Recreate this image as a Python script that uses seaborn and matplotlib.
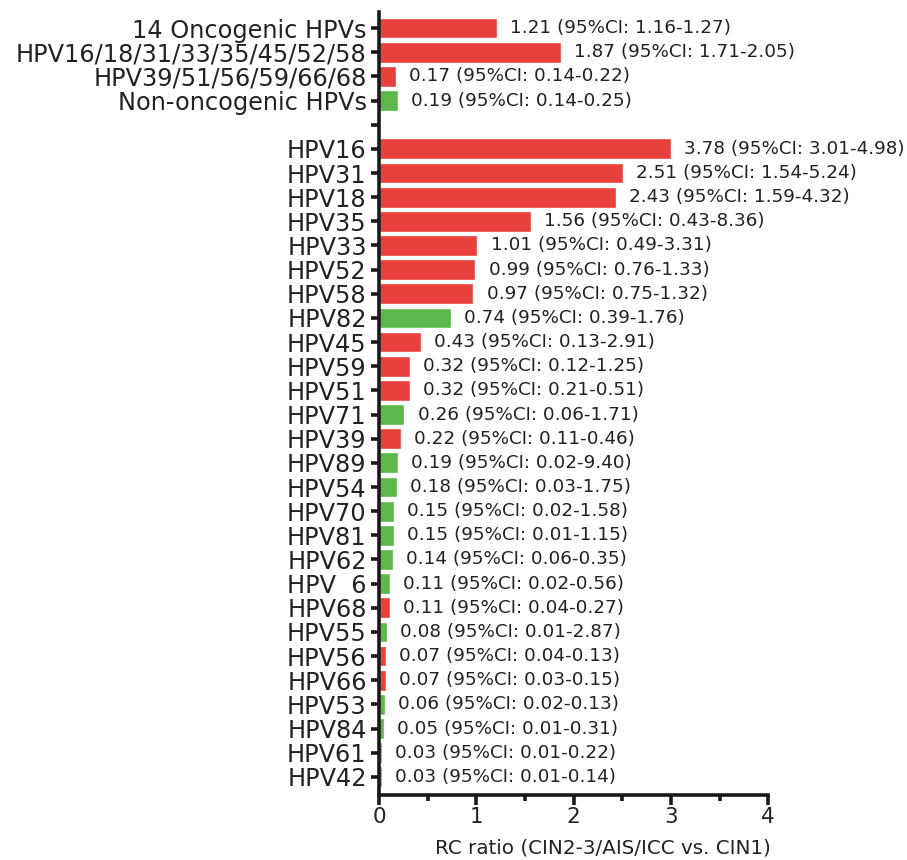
import matplotlib
matplotlib.use("Agg")
import matplotlib.pyplot as plt
import seaborn as sns
import pandas as pd
import numpy as np

categories = ["14 Oncogenic HPVs", "HPV16/18/31/33/35/45/52/58", "HPV39/51/56/59/66/68",
              "Non-oncogenic HPVs", " ",
              "HPV16", "HPV31", "HPV18", "HPV35", "HPV33", "HPV52", "HPV58", "HPV82",
              "HPV45", "HPV59", "HPV51", "HPV71", "HPV39", "HPV89", "HPV54", "HPV70",
              "HPV81", "HPV62", "HPV  6", "HPV68", "HPV55", "HPV56", "HPV66", "HPV53",
              "HPV84", "HPV61", "HPV42"]
# drawn bar lengths (HPV16 bar is drawn truncated at ~3.0 in the reference)
bar_lengths = [1.21, 1.87, 0.17, 0.19, np.nan,
               3.00, 2.51, 2.43, 1.56, 1.01, 0.99, 0.97, 0.74,
               0.43, 0.32, 0.32, 0.26, 0.22, 0.19, 0.18, 0.15,
               0.15, 0.14, 0.11, 0.11, 0.08, 0.07, 0.07, 0.06,
               0.05, 0.03, 0.03]
ratios = ["1.21", "1.87", "0.17", "0.19", "",
          "3.78", "2.51", "2.43", "1.56", "1.01", "0.99", "0.97", "0.74",
          "0.43", "0.32", "0.32", "0.26", "0.22", "0.19", "0.18", "0.15",
          "0.15", "0.14", "0.11", "0.11", "0.08", "0.07", "0.07", "0.06",
          "0.05", "0.03", "0.03"]
ci_low = ["1.16", "1.71", "0.14", "0.14", "",
          "3.01", "1.54", "1.59", "0.43", "0.49", "0.76", "0.75", "0.39",
          "0.13", "0.12", "0.21", "0.06", "0.11", "0.02", "0.03", "0.02",
          "0.01", "0.06", "0.02", "0.04", "0.01", "0.04", "0.03", "0.02",
          "0.01", "0.01", "0.01"]
ci_high = ["1.27", "2.05", "0.22", "0.25", "",
           "4.98", "5.24", "4.32", "8.36", "3.31", "1.33", "1.32", "1.76",
           "2.91", "1.25", "0.51", "1.71", "0.46", "9.40", "1.75", "1.58",
           "1.15", "0.35", "0.56", "0.27", "2.87", "0.13", "0.15", "0.13",
           "0.31", "0.22", "0.14"]
groups = ["onco", "onco", "onco", "non", "blank",
          "onco", "onco", "onco", "onco", "onco", "onco", "onco", "non",
          "onco", "onco", "onco", "non", "onco", "non", "non", "non",
          "non", "non", "non", "onco", "non", "onco", "onco", "non",
          "non", "non", "non"]

df = pd.DataFrame({"cat": categories, "val": bar_lengths, "grp": groups})
plot_df = df[df["grp"] != "blank"]

sns.set_style("white")
plt.rcParams["font.family"] = ["DejaVu Sans"]

fig = plt.figure(figsize=(9.07, 8.60), dpi=100)
ax = fig.add_axes([0.418, 0.0756, 0.429, 0.910])

palette = {"onco": "#E8403A", "non": "#5CB84B"}
sns.barplot(data=plot_df, x="val", y="cat", hue="grp", order=categories,
            palette=palette, dodge=False, width=0.86, orient="h",
            legend=False, ax=ax, saturation=1)

for i, (bl, r, lo, hi) in enumerate(zip(bar_lengths, ratios, ci_low, ci_high)):
    if r == "":
        continue
    ax.annotate(f"{r} (95%CI: {lo}-{hi})", xy=(bl, i), xytext=(9.5, 0),
                textcoords="offset points", va="center", ha="left",
                fontsize=13.2, color="#222222")

ax.set_xlim(0, 4)
ax.set_ylim(31.75, -0.65)
ax.set_xticks([0, 1, 2, 3, 4])
ax.set_xticks([0.5, 1.5, 2.5, 3.5], minor=True)
ax.set_xticklabels(["0", "1", "2", "3", "4"], fontsize=15.5, color="#222222")
ax.set_yticks(range(len(categories)))
ax.set_yticklabels(categories, fontsize=17.3, color="#222222")
ax.set_xlabel("RC ratio (CIN2-3/AIS/ICC vs. CIN1)", fontsize=14.3, color="#222222", labelpad=8)
ax.xaxis.label.set_x(0.576)
ax.set_ylabel("")

for s in ["top", "right"]:
    ax.spines[s].set_visible(False)
for s in ["left", "bottom"]:
    ax.spines[s].set_linewidth(2.6)
    ax.spines[s].set_color("#1a1a1a")

ax.tick_params(axis="y", which="major", direction="out", length=6, width=2.6,
               color="#1a1a1a", left=True, pad=3)
ax.tick_params(axis="x", which="major", direction="out", length=7, width=2.6,
               color="#1a1a1a", bottom=True, pad=2)
ax.tick_params(axis="x", which="minor", direction="out", length=4, width=2.6,
               color="#1a1a1a", bottom=True)

fig.savefig("out.png", dpi=100)
